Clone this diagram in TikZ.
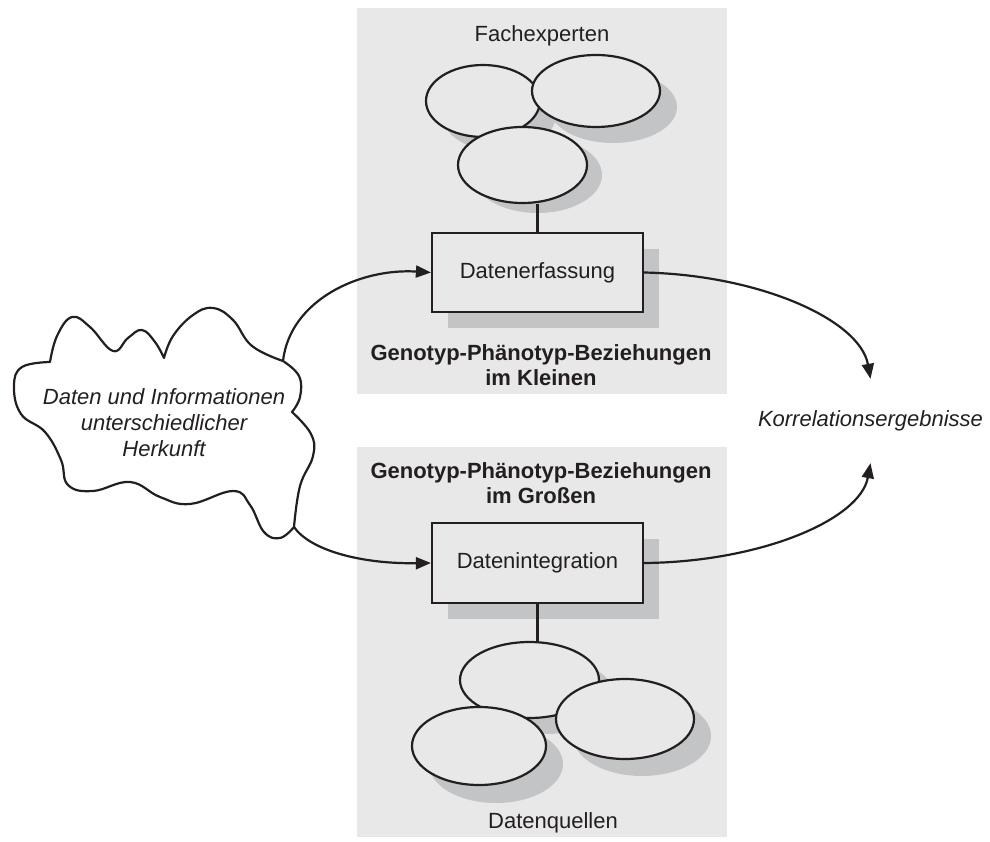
\documentclass[tikz,border=0pt]{standalone}
\usepackage{fontspec}
\setmainfont{Liberation Sans}
\usetikzlibrary{shapes.geometric,shadows,arrows.meta}
\definecolor{panelgray}{RGB}{232,232,232}
\definecolor{shadegray}{RGB}{195,196,198}
\definecolor{ink}{RGB}{35,31,32}
\begin{document}
\begin{tikzpicture}[x=1pt,y=-1pt,
  txt/.style={font=\fontsize{22}{25.5}\selectfont, text=ink, inner sep=0pt},
  boldtxt/.style={font=\fontsize{22}{25}\selectfont\bfseries, text=ink, inner sep=0pt, align=center},
  ittxt/.style={font=\fontsize{22}{25.8}\selectfont\itshape, text=ink, inner sep=0pt, align=center},
  panel/.style={rectangle, fill=panelgray, draw=none, inner sep=0pt},
  outline/.style={draw=ink, line width=2.2pt},
  castshadow/.style 2 args={drop shadow={shadow xshift=#1, shadow yshift=#2, opacity=1, fill=shadegray}},
  blob/.style={ellipse, outline, fill=panelgray, inner sep=0pt},
  stepbox/.style={rectangle, outline, fill=panelgray, inner sep=0pt,
    minimum width=211pt, font=\fontsize{22}{25.5}\selectfont, text=ink,
    castshadow={16pt}{-16pt}},
  conn/.style={ink, line width=2.2pt, -{Triangle[length=15pt,width=12pt]}},
]
\useasboundingbox (0,0) rectangle (990,842);

% shaded panels
\node[panel, minimum width=370pt, minimum height=386pt] (toppanel) at (542,201) {};
\node[panel, minimum width=370pt, minimum height=390pt] (botpanel) at (542,642) {};

% process boxes
\node[stepbox, minimum height=79pt] (capture) at (537.5,272.5) {Datenerfassung};
\node[stepbox, minimum height=80pt] (integ) at (537.5,563) {Datenintegration};

% experts
\node[blob, castshadow={16pt}{-14pt}, minimum width=114pt, minimum height=72pt] (E1) at (483,101) {};
\node[blob, castshadow={17pt}{-16pt}, minimum width=128pt, minimum height=72pt] (E2) at (596,91) {};
\node[blob, castshadow={15pt}{-10pt}, minimum width=129pt, minimum height=76pt] (E3) at (522.5,165) {};

% data sources
\node[blob, castshadow={16pt}{-16pt}, minimum width=139pt, minimum height=76pt] (F1) at (529.5,680) {};
\node[blob, castshadow={17pt}{-18pt}, minimum width=134pt, minimum height=78pt] (F2) at (479,746) {};
\node[blob, castshadow={17pt}{-17pt}, minimum width=138pt, minimum height=80pt] (F3) at (625,719) {};

\draw[outline] (capture.north) -- (capture.north |- E3.south);
\draw[outline] (integ.south) -- (integ.south |- F1.north);

% labels (multi-line nodes are anchored at the baseline of their last line)
\node[txt, anchor=base] (fach) at (542,42) {Fachexperten};
\node[txt, anchor=base] (quell) at (553,828) {Datenquellen};
\node[boldtxt, anchor=base] (klein) at (541,385) {Genotyp-Phänotyp-Beziehungen\\im Kleinen};
\node[boldtxt, anchor=base] (gross) at (541,503) {Genotyp-Phänotyp-Beziehungen\\im Großen};
\node[ittxt, minimum height=84pt] (korr) at (870.5,421) {Korrelationsergebnisse};

% cloud of heterogeneous sources
\coordinate (cloudtop) at (283,361);
\coordinate (cloudbot) at (294,527);
\draw[outline, line join=round]
  plot[smooth, tension=0.7] coordinates {(50,362) (57,336) (72,317) (90,327) (113,351) (128,338) (142,330) (155,342) (164,358)}
  -- plot[smooth, tension=0.7] coordinates {(164,358) (173,336) (193,315) (213,308) (233,320) (252,346) (283,361)}
  -- plot[smooth, tension=0.7] coordinates {(283,361) (299,376) (300,397) (292,412)}
  -- plot[smooth, tension=0.7] coordinates {(292,412) (311,434) (313,456) (300,486) (294,527)}
  -- plot[smooth, tension=0.7] coordinates {(294,527) (280,538) (264,532) (250,505) (233,491) (190,504) (160,497) (130,482) (93,491) (68,485) (61,460) (45,432) (21,414) (14,386) (22,367) (50,362)}
  -- cycle;
\node[ittxt, anchor=base] (src) at (164,456) {Daten und Informationen\\unterschiedlicher\\Herkunft};

% flows
\draw[conn] (cloudtop) .. controls (290,300) and (360,268) .. (capture.west);
\draw[conn] (cloudbot) .. controls (310,550) and (360,564) .. (integ.west);
\draw[conn] (capture.east) .. controls (760,275) and (860,320) .. (korr.north);
\draw[conn] (integ.east) .. controls (760,562) and (860,520) .. (korr.south);
\end{tikzpicture}
\end{document}
